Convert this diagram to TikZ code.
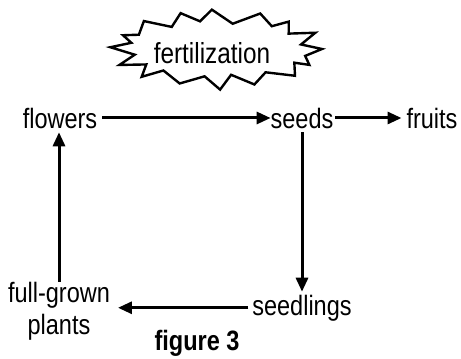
\documentclass[tikz,border=0pt]{standalone}
\usepackage{fontspec}
\setmainfont{Liberation Sans}
\usepackage{tikz}
\usetikzlibrary{arrows.meta}

\begin{document}
\begin{tikzpicture}[x=1pt,y=-1pt,line cap=rect,
		stagelabel/.style={inner sep=0, outer sep=0, anchor=base, font=\fontsize{28pt}{32pt}\selectfont},
		cyclearrow/.style={line width=3.0pt, line cap=butt, -{Triangle[length=14pt,width=12pt]}}]
				\def\narrowtext#1{\scalebox{0.84}[1]{#1}}
				\def\figfontA#1{\fontsize{28pt}{32pt}\selectfont\bfseries\narrowtext{#1}}
				\useasboundingbox (0.0,0.0) rectangle (461.0,359.0);
				% burst round the label, 16 points
				\draw [line width=2.4pt, line join=miter, fill=white]
					(322.0,49.0) \foreach \i in {1,...,31} {
						-- ({217.5+(105-17*mod(\i,2))*(1+0.04*sin(\i*137))*cos(\i*360/32+3*sin(\i*71))},
						    {49.0+(39-12*mod(\i,2))*(1+0.05*sin(\i*97))*sin(\i*360/32+3*sin(\i*71))})
					} -- cycle;
				\node[inner sep=0, outer sep=0, anchor=base, font=\fontsize{29pt}{32pt}\selectfont] (fert) at (212.0,63.0) {\narrowtext{fertilization}};
				\node[stagelabel] (flowers) at (60.0,128.0) {\narrowtext{flowers}};
				\node[stagelabel] (seeds) at (302.0,128.0) {\narrowtext{seeds}};
				\node[stagelabel] (fruits) at (432.0,128.0) {\narrowtext{fruits}};
				\node[stagelabel] (seedlings) at (302.0,315.0) {\narrowtext{seedlings}};
				\node[stagelabel, anchor=center, align=center] (fullgrown) at (59.0,311.0) {\narrowtext{full-grown}\\\narrowtext{plants}};
				\node[inner sep=0, outer sep=0, anchor=base] (caption) at (197.0,350.0) {\figfontA{figure 3}};
				\draw [cyclearrow, shorten <=5pt] (flowers.east) -- (seeds.west);
				\draw [cyclearrow, shorten <=2pt, shorten >=5pt] (seeds.east) -- (fruits.west);
				\draw [cyclearrow, shorten <=4pt, shorten >=3pt] (seeds.south) -- (seedlings.north);
				\draw [cyclearrow, shorten <=4pt, shorten >=8pt] (seedlings.west) -- (seedlings.west -| fullgrown.east);
				\draw [cyclearrow, shorten >=4pt] (fullgrown.north) -- (fullgrown.north |- flowers.south);
			\end{tikzpicture}
\end{document}
